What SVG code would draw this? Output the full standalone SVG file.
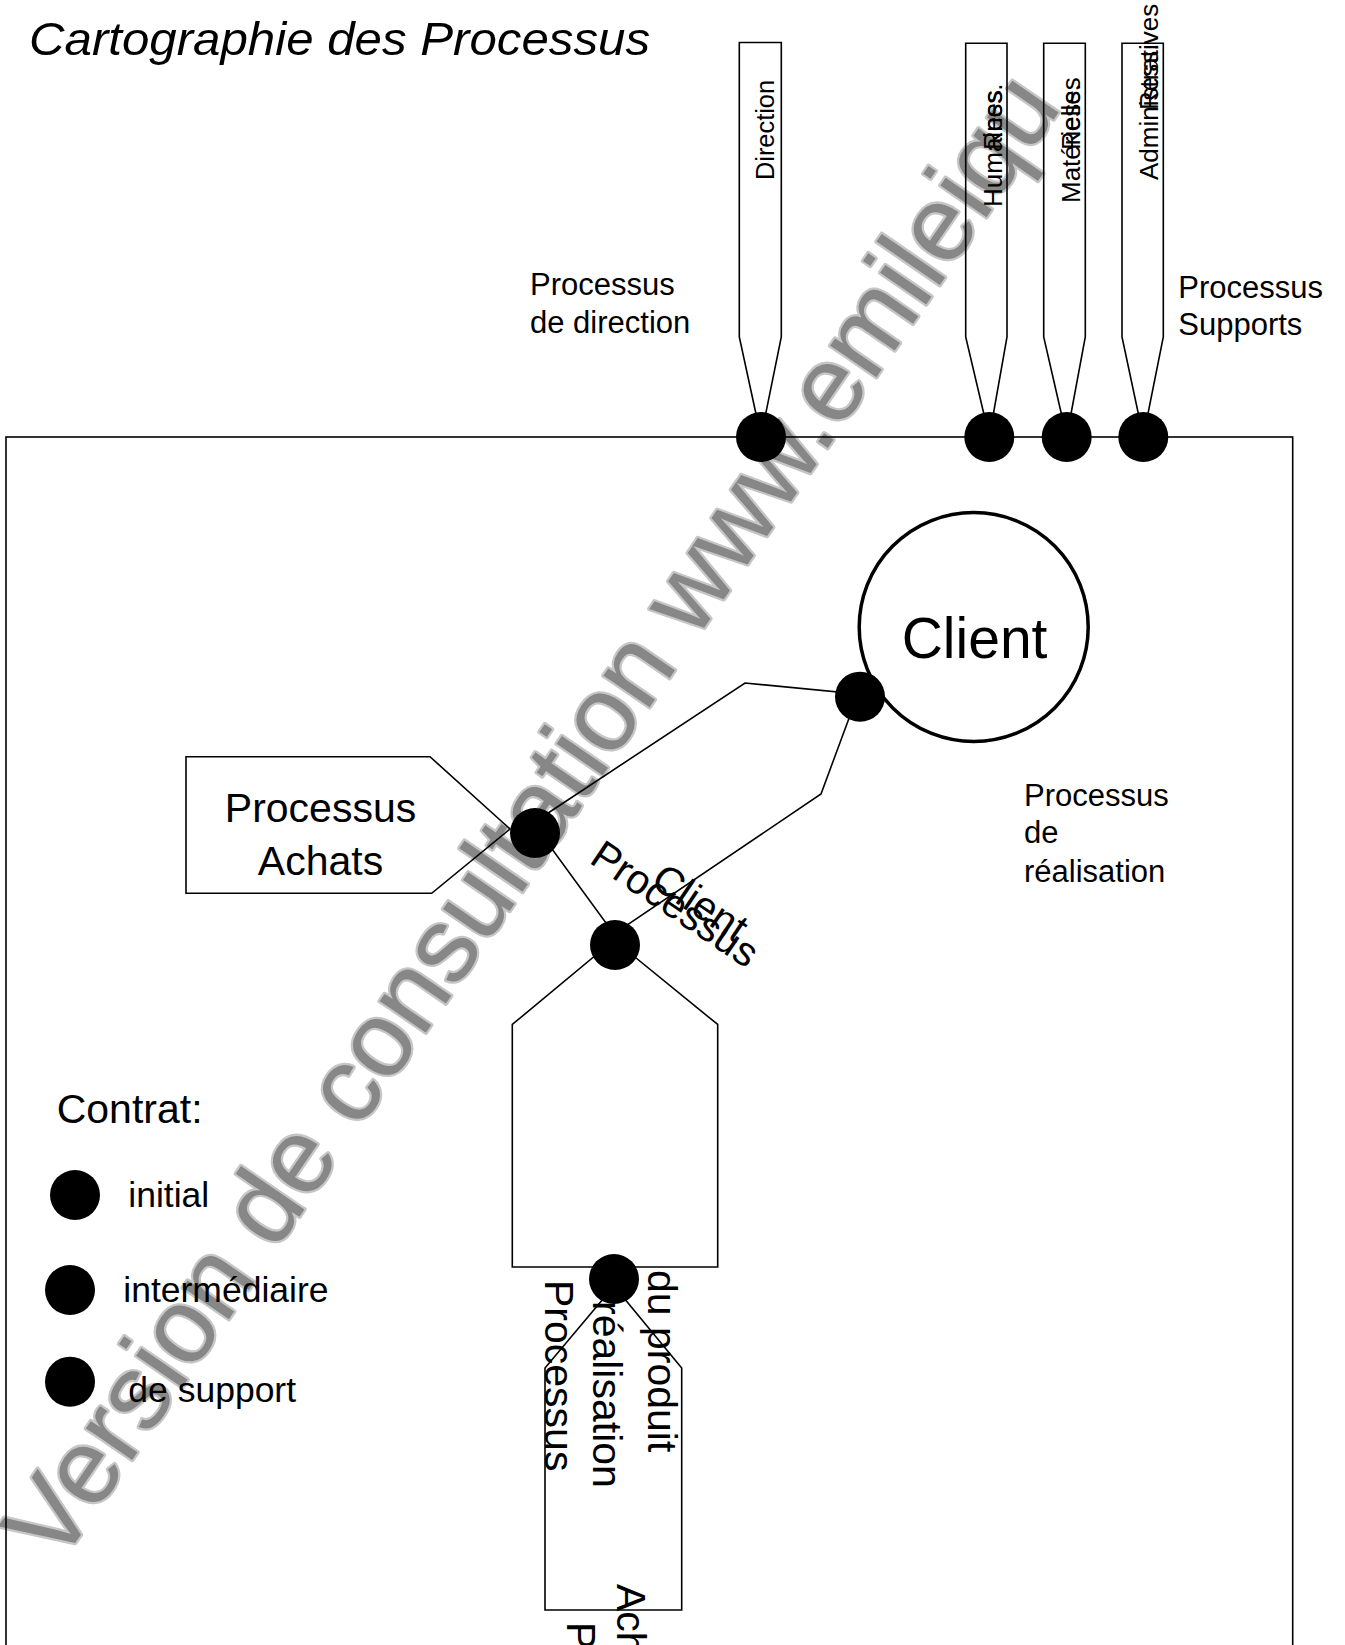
<svg xmlns="http://www.w3.org/2000/svg" width="1345" height="1645" viewBox="0 0 1345 1645">
<style>
text { font-family: "Liberation Sans", Arial, Helvetica, sans-serif; fill: #000; }
.wm { font-size: 106px; fill: #878787; stroke: #c6c6c6; stroke-width: 4.5px; paint-order: stroke; stroke-linejoin: round; }
.shape { fill: none; stroke: #000; stroke-width: 1.6; }
.line { fill: none; stroke: #000; stroke-width: 1.6; }
.dot { fill: #000; }
.pen { font-size: 26px; }
.lbl { font-size: 31px; }
.big { font-size: 41px; }
.leg { font-size: 35.5px; }
</style>
<rect width="1345" height="1645" fill="#fff"/>
<g id="watermark">
  <text class="wm" transform="translate(58,1568) rotate(-55.5)">Version de consultation www.emileiqu</text>
</g>
<g id="title">
  <text x="29" y="55" font-size="47" font-style="italic" textLength="621" lengthAdjust="spacingAndGlyphs">Cartographie des Processus</text>
</g>
<g id="frame">
  <rect x="6" y="437" width="1286.7" height="1300" class="line"/>
</g>
<g id="pennant-direction">
  <polygon class="shape" points="739.3,42.5 781.3,42.5 781.3,337 761,437 739.3,337"/>
  <text class="pen" transform="translate(774,180) rotate(-90)" textLength="100" lengthAdjust="spacingAndGlyphs">Direction</text>
</g>
<g id="pennant-rh">
  <polygon class="shape" points="965.7,43.3 1007,43.3 1007,337 989.3,437 965.7,337"/>
  <text class="pen" transform="translate(1001.5,207) rotate(-90)">Humaines</text>
  <text class="pen" font-size="29" transform="translate(1001.5,150) rotate(-90)">Ress.</text>
</g>
<g id="pennant-rm">
  <polygon class="shape" points="1043.7,43.3 1085.3,43.3 1085.3,337 1066.7,437 1043.7,337"/>
  <text class="pen" transform="translate(1080,203) rotate(-90)">Matérielles</text>
  <text class="pen" font-size="29" transform="translate(1080,150) rotate(-90)">Ress.</text>
</g>
<g id="pennant-ra">
  <polygon class="shape" points="1122,43.3 1163.3,43.3 1163.3,337 1143.3,437 1122,337"/>
  <text class="pen" transform="translate(1158,180) rotate(-90)">Administratives</text>
  <text class="pen" transform="translate(1158,110) rotate(-90)">Ress.</text>
</g>
<g id="client">
  <circle cx="973.7" cy="627" r="114.5" fill="#fff" stroke="#000" stroke-width="3.5"/>
  <text x="901.7" y="658.3" font-size="57">Client</text>
</g>
<g id="achats">
  <polygon class="shape" points="186,756.7 430,756.7 510,829 431.7,893.3 186,893.3"/>
  <text class="big" x="320.5" y="822.3" text-anchor="middle" font-size="42">Processus</text>
  <text class="big" x="320.5" y="875" text-anchor="middle" font-size="42">Achats</text>
</g>
<g id="realisation-produit">
  <polygon class="shape" points="614,940 717.7,1024.5 717.7,1267 512.3,1267 512.3,1024.5"/>
</g>
<g id="achats-bas">
  <polygon class="shape" points="614,1286 681.7,1368 681.7,1610 545,1610 545,1368"/>
</g>
<g id="connectors">
  <polygon class="line" points="533,823 745,683 858,694 821,794 614,934"/>
</g>
<g id="contracts">
  <circle class="dot" cx="761" cy="437" r="25"/>
  <circle class="dot" cx="989.3" cy="437" r="25"/>
  <circle class="dot" cx="1066.7" cy="437" r="25"/>
  <circle class="dot" cx="1143.3" cy="437" r="25"/>
  <circle class="dot" cx="860" cy="696.7" r="25"/>
  <circle class="dot" cx="535" cy="833" r="25"/>
  <circle class="dot" cx="615" cy="945" r="25"/>
  <circle class="dot" cx="614" cy="1279" r="25"/>
</g>
<g id="label-processus-client">
  <text class="big" font-size="40" transform="translate(588,862) rotate(34)">Processus</text>
  <text class="big" font-size="40" transform="translate(649,885) rotate(34)">Client</text>
</g>
<g id="label-realisation-produit">
  <text class="big" transform="translate(545,1280) rotate(90)">Processus</text>
  <text class="big" transform="translate(593,1301) rotate(90)">réalisation</text>
  <text class="big" transform="translate(648,1270) rotate(90)">du produit</text>
  <text class="big" transform="translate(617,1584) rotate(90)">Achats</text>
  <text class="big" transform="translate(567,1622) rotate(90)">Processus</text>
</g>
<g id="labels">
  <text class="lbl" x="530" y="295">Processus</text>
  <text class="lbl" x="530" y="332.7">de direction</text>
  <text class="lbl" x="1178.3" y="297.7">Processus</text>
  <text class="lbl" x="1178.3" y="335">Supports</text>
  <text class="lbl" x="1024" y="805.7">Processus</text>
  <text class="lbl" x="1024" y="843.3">de</text>
  <text class="lbl" x="1024" y="881.7">réalisation</text>
</g>
<g id="legend">
  <text x="56.7" y="1123.3" font-size="41">Contrat:</text>
  <circle class="dot" cx="75" cy="1195" r="25"/>
  <text class="leg" x="128.3" y="1206.7">initial</text>
  <circle class="dot" cx="70" cy="1290" r="25"/>
  <text class="leg" x="123.3" y="1301.7">intermédiaire</text>
  <circle class="dot" cx="70" cy="1381.7" r="25"/>
  <text class="leg" x="128.3" y="1401.7">de support</text>
</g>
</svg>
